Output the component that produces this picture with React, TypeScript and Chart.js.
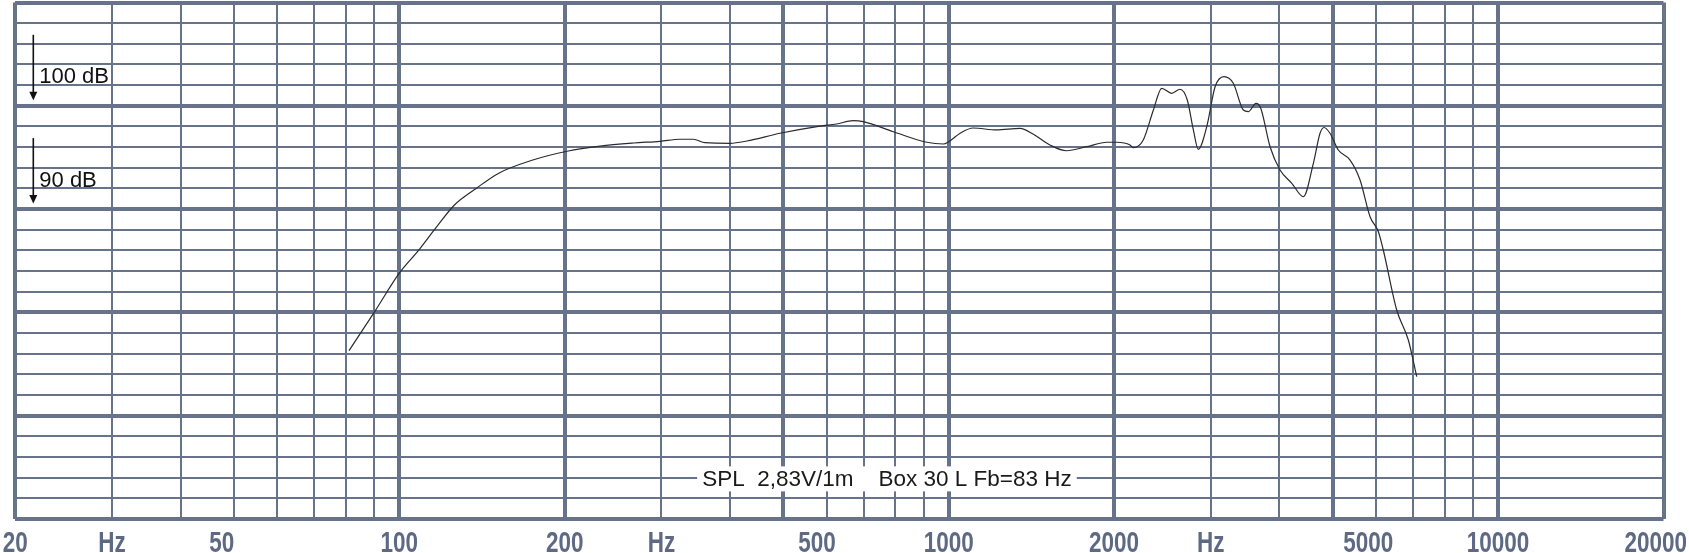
import React, { useEffect, useRef } from "react";
import { Chart, registerables } from "chart.js";

Chart.register(...registerables);

// ---- data ----
const freqs = [
  81, 90, 100, 108, 117, 126, 138, 152, 175, 202, 232, 267, 298, 324, 343, 360,
  400, 429, 493, 583, 625, 670, 699, 793, 912, 978, 1000, 1049, 1108, 1222,
  1348, 1426, 1528, 1639, 1783, 1939, 2022, 2138, 2168, 2260, 2358, 2442, 2546,
  2636, 2718, 2788, 2846, 2949, 3054, 3170, 3296, 3438, 3510, 3626, 3698, 3845,
  4009, 4212, 4422, 4610, 4741, 4822, 4943, 5118, 5377, 5607, 5847, 6054, 6180,
  6538, 6864, 7110,
];
const spl = [
  76.3, 80.0, 83.8, 85.9, 88.3, 90.4, 92.0, 93.5, 94.75, 95.6, 96.1, 96.4, 96.56,
  96.76, 96.76, 96.43, 96.37, 96.59, 97.34, 98.04, 98.24, 98.56, 98.46, 97.49,
  96.47, 96.3, 96.52, 97.34, 97.85, 97.66, 97.82, 97.24, 96.21, 95.65, 96.04,
  96.47, 96.47, 96.21, 95.94, 96.69, 99.59, 101.69, 101.21, 101.6, 100.56, 97.66,
  95.79, 97.98, 101.85, 102.82, 102.18, 99.59, 99.43, 100.24, 99.76, 96.04,
  93.79, 92.5, 91.2, 94.43, 97.34, 97.9, 97.34, 95.72, 94.75, 92.82, 89.26,
  87.81, 86.04, 80.23, 77.33, 73.78,
];

const xGridValues = [
  20, 30, 40, 50, 60, 70, 80, 90, 100, 200, 300, 400, 500, 600, 700, 800, 900,
  1000, 2000, 3000, 4000, 5000, 6000, 7000, 8000, 9000, 10000, 20000,
];
const xMajorValues = [20, 100, 200, 500, 1000, 2000, 5000, 10000, 20000];
// frequency at which each axis label is centred (as placed on the original sheet)
const xLabelAnchors = [20, 30, 47.5, 100, 200, 300, 576, 1000, 2000, 3000, 5800, 10000, 20000];
const xLabelTexts = ["20", "Hz", "50", "100", "200", "Hz", "500", "1000", "2000", "Hz", "5000", "10000", "20000"];

const yMin = 60;
const yMax = 110;
const yStep = 2;
const yMajorStep = 10;

const dbMarkerValues = [100, 90];
const dbMarkerTexts = ["100 dB", "90 dB"];

const noteText = "SPL  2,83V/1m    Box 30 L Fb=83 Hz";
const noteFreq = 772;
const noteDb = 64;

const GRID = "#66738b";
const LABEL = "#5e6a84";

const overlayPlugin = {
  id: "overlay",
  afterDraw(chart: any) {
    const ctx = chart.ctx as CanvasRenderingContext2D;
    const xs = chart.scales.x;
    const ys = chart.scales.y;
    const area = chart.chartArea;
    const W = chart.width;
    const H = chart.height;

    // dB markers with arrows
    ctx.save();
    ctx.fillStyle = "#111";
    ctx.strokeStyle = "#111";
    dbMarkerValues.forEach((v, i) => {
      const y = ys.getPixelForValue(v);
      const ax = area.left + 18;
      ctx.lineWidth = 1.6;
      ctx.beginPath();
      ctx.moveTo(ax, y - 71);
      ctx.lineTo(ax, y - 12);
      ctx.stroke();
      ctx.beginPath();
      ctx.moveTo(ax - 4, y - 14);
      ctx.lineTo(ax + 4, y - 14);
      ctx.lineTo(ax, y - 5.5);
      ctx.closePath();
      ctx.fill();
      ctx.font = '22px "Liberation Sans", Arial, sans-serif';
      ctx.textAlign = "left";
      ctx.textBaseline = "alphabetic";
      ctx.fillText(dbMarkerTexts[i], ax + 6, y - 22.5);
    });
    ctx.restore();

    // note text with white box
    ctx.save();
    ctx.font = '22.5px "Liberation Sans", Arial, sans-serif';
    const tw = ctx.measureText(noteText).width;
    const cx = xs.getPixelForValue(noteFreq);
    const base = ys.getPixelForValue(noteDb) + 8.7;
    const left = cx - tw / 2;
    ctx.fillStyle = "#ffffff";
    ctx.fillRect(left - 5, base - 20, tw + 10, 25);
    ctx.fillStyle = "#1a1a1a";
    ctx.textAlign = "left";
    ctx.textBaseline = "alphabetic";
    ctx.fillText(noteText, left, base);
    ctx.restore();

    // x axis labels (condensed bold)
    ctx.save();
    ctx.font = 'bold 29px "Liberation Sans", Arial, sans-serif';
    ctx.fillStyle = LABEL;
    ctx.textAlign = "left";
    ctx.textBaseline = "alphabetic";
    const sx = 0.775;
    xLabelAnchors.forEach((v, i) => {
      const t = xLabelTexts[i];
      const w = ctx.measureText(t).width * sx;
      const px = xs.getPixelForValue(v);
      let l = px - w / 2;
      if (l < 0) l = 0;
      if (l + w > W - 2) l = W - 2 - w;
      ctx.save();
      ctx.translate(l, H - 1.5);
      ctx.scale(sx, 1);
      ctx.fillText(t, 0, 0);
      ctx.restore();
    });
    ctx.restore();
  },
};

export default function App() {
  const ref = useRef<HTMLCanvasElement | null>(null);

  useEffect(() => {
    if (!ref.current) return;
    const yGridValues: number[] = [];
    for (let v = yMin; v <= yMax; v += yStep) yGridValues.push(v);

    const chart = new Chart(ref.current, {
      type: "line",
      data: {
        datasets: [
          {
            data: freqs.map((f, i) => ({ x: f, y: spl[i] })),
            borderColor: "#2b2b2b",
            borderWidth: 1.2,
            pointRadius: 0,
            fill: false,
            cubicInterpolationMode: "monotone",
          },
        ],
      },
      options: {
        animation: false,
        responsive: false,
        events: [],
        layout: { padding: { left: 15.3, right: 25.5, top: 2.5, bottom: 34 } },
        plugins: { legend: { display: false }, tooltip: { enabled: false } },
        scales: {
          x: {
            type: "logarithmic",
            min: 20,
            max: 20000,
            afterBuildTicks: (s: any) => {
              s.ticks = xGridValues.map((v) => ({ value: v }));
            },
            ticks: { display: false },
            border: { display: false },
            grid: {
              color: GRID,
              drawTicks: false,
              lineWidth: (c: any) =>
                c.tick && xMajorValues.includes(c.tick.value) ? 4 : 2,
            },
          },
          y: {
            type: "linear",
            min: yMin,
            max: yMax,
            afterBuildTicks: (s: any) => {
              s.ticks = yGridValues.map((v) => ({ value: v }));
            },
            ticks: { display: false },
            border: { display: false },
            grid: {
              color: GRID,
              drawTicks: false,
              lineWidth: (c: any) =>
                c.tick && c.tick.value % yMajorStep === 0 ? 4 : 2,
            },
          },
        },
      },
      plugins: [overlayPlugin],
    } as any);
    return () => chart.destroy();
  }, []);

  return (
    <div
      style={{
        position: "fixed",
        left: 0,
        top: 0,
        width: 1689,
        height: 553,
        background: "#ffffff",
      }}
    >
      <canvas ref={ref} width={1689} height={553} style={{ display: "block" }} />
    </div>
  );
}
